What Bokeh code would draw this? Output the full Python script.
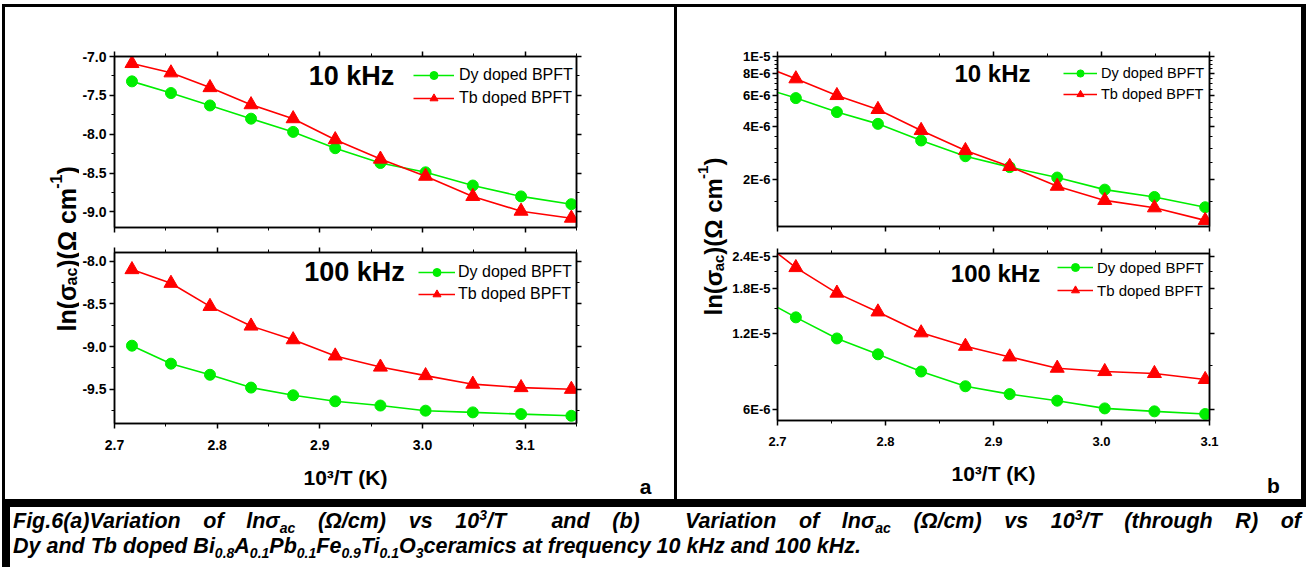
import math
from bokeh.plotting import figure
from bokeh.models import (Range1d, FixedTicker, CustomJSTickFormatter, LinearAxis, LogAxis,
                          Legend, LegendItem, Label, Div, Spacer)
from bokeh.layouts import row, column
from bokeh.embed import file_html
from bokeh.resources import INLINE

FONT = "Liberation Sans"
GREEN = "#00ee00"
RED = "#ff0000"

# ---------------- data ----------------
x_a = [2.717, 2.755, 2.793, 2.833, 2.874, 2.915, 2.959, 3.003, 3.049, 3.096, 3.145]
dy_10k_a = [-7.32, -7.47, -7.63, -7.80, -7.97, -8.18, -8.37, -8.49, -8.66, -8.80, -8.90]
tb_10k_a = [-7.09, -7.21, -7.40, -7.62, -7.80, -8.07, -8.32, -8.54, -8.80, -8.99, -9.08]
dy_100k_a = [-8.99, -9.20, -9.33, -9.48, -9.57, -9.64, -9.69, -9.75, -9.77, -9.79, -9.81]
tb_100k_a = [-8.10, -8.26, -8.53, -8.76, -8.92, -9.11, -9.24, -9.34, -9.44, -9.48, -9.50]

x_b = [2.681, 2.717, 2.755, 2.793, 2.833, 2.874, 2.915, 2.959, 3.003, 3.049, 3.096]
dy_10k_b = [6.8e-6, 5.80e-6, 4.83e-6, 4.14e-6, 3.33e-6, 2.71e-6, 2.35e-6, 2.05e-6, 1.75e-6, 1.59e-6, 1.39e-6]
tb_10k_b = [9.1e-6, 7.47e-6, 6.00e-6, 5.00e-6, 3.80e-6, 2.92e-6, 2.37e-6, 1.83e-6, 1.52e-6, 1.38e-6, 1.17e-6]
dy_100k_b = [1.68e-5, 1.386e-5, 1.145e-5, 9.92e-6, 8.49e-6, 7.43e-6, 6.92e-6, 6.52e-6, 6.08e-6, 5.92e-6, 5.78e-6]
tb_100k_b = [2.85e-5, 2.175e-5, 1.726e-5, 1.456e-5, 1.205e-5, 1.067e-5, 9.69e-6, 8.75e-6, 8.49e-6, 8.34e-6, 7.90e-6]

series_labels = ["Dy doped BPFT", "Tb doped BPFT"]
freq_labels = ["10 kHz", "100 kHz"]

x_ticks_a = [2.7, 2.8, 2.9, 3.0, 3.1]
x_minor_a = [2.75, 2.85, 2.95, 3.05, 3.15]
x_ticks_b = [2.7, 2.8, 2.9, 3.0, 3.1]
x_minor_b = [2.75, 2.85, 2.95, 3.05]
y_ticks_a10 = [-7.0, -7.5, -8.0, -8.5, -9.0]
y_minor_a10 = [-7.25, -7.75, -8.25, -8.75, -9.25]
y_ticks_a100 = [-8.0, -8.5, -9.0, -9.5]
y_minor_a100 = [-8.25, -8.75, -9.25, -9.75]
y_ticks_b10 = [2e-6, 4e-6, 6e-6, 8e-6, 1e-5]
y_minor_b10 = [1.5e-6, 2.5e-6, 3e-6, 3.5e-6, 4.5e-6, 5e-6, 5.5e-6, 6.5e-6, 7e-6, 7.5e-6,
               8.5e-6, 9e-6, 9.5e-6]
y_ticks_b100 = [6e-6, 1.2e-5, 1.8e-5, 2.4e-5]
y_minor_b100 = [9e-6, 1.5e-5, 2.1e-5]

FMT_LIN = "return tick.toFixed(1);"
FMT_EXP = "return tick.toExponential().toUpperCase();"
FMT_NONE = "return '';"


def style_axis(ax, ticks, minor, fmt, fs, show):
    ax.ticker = FixedTicker(ticks=ticks, minor_ticks=minor)
    ax.formatter = CustomJSTickFormatter(code=fmt if show else FMT_NONE)
    ax.axis_line_color = "black"
    ax.axis_line_width = 1.5
    ax.major_tick_line_color = "black"
    ax.major_tick_line_width = 1.5
    ax.minor_tick_line_color = "black"
    ax.minor_tick_line_width = 1
    ax.major_tick_in = 0
    ax.major_tick_out = 5
    ax.minor_tick_in = 0
    ax.minor_tick_out = 3
    ax.major_label_text_font = FONT
    ax.major_label_text_font_style = "bold"
    ax.major_label_text_color = "black"
    ax.major_label_text_font_size = fs if show else "1px"
    ax.major_label_standoff = 3 if show else 0


def make_panel(w, h, mb, xr, yr, log, xt, xmt, yt, ymt, yfmt, tick_fs, bottom_labels,
               xs, ydy, ytb, leg, freq, freq_pos, freq_fs, leg_fs, ystand=3):
    p = figure(width=w, height=h, x_range=Range1d(*xr), y_range=Range1d(*yr),
               y_axis_type="log" if log else "linear", output_backend="svg",
               toolbar_location=None, min_border_left=mb[0], min_border_right=mb[1],
               min_border_top=mb[2], min_border_bottom=mb[3])
    p.grid.visible = False
    p.outline_line_color = "black"
    p.outline_line_width = 1.5
    p.background_fill_color = "white"
    p.border_fill_color = "white"

    style_axis(p.below[0], xt, xmt, FMT_LIN, tick_fs, bottom_labels)
    style_axis(p.left[0], yt, ymt, yfmt, tick_fs, True)
    p.left[0].major_label_standoff = ystand
    top_ax = LinearAxis()
    p.add_layout(top_ax, "above")
    style_axis(top_ax, xt, xmt, FMT_LIN, tick_fs, False)
    right_ax = LogAxis() if log else LinearAxis()
    p.add_layout(right_ax, "right")
    style_axis(right_ax, yt, ymt, yfmt, tick_fs, False)

    if bottom_labels:
        ax = p.below[0]
        ax.major_label_standoff = 11
        ax.axis_label = "10³/T (K)"
        ax.axis_label_text_font = FONT
        ax.axis_label_text_font_style = "bold"
        ax.axis_label_text_font_size = "21px"
        ax.axis_label_text_color = "black"
        ax.axis_label_standoff = 13

    l1 = p.line(xs, ydy, line_color=GREEN, line_width=1.6)
    s1 = p.scatter(xs, ydy, marker="circle", size=11, fill_color=GREEN, line_color=GREEN)
    l2 = p.line(xs, ytb, line_color=RED, line_width=1.6)
    s2 = p.scatter(xs, ytb, marker="triangle", size=14, fill_color=RED, line_color=RED)

    legend = Legend(items=[LegendItem(label=series_labels[0], renderers=[l1, s1]),
                           LegendItem(label=series_labels[1], renderers=[l2, s2])],
                    location=(leg["vx"], leg["vy"]), padding=0, margin=0,
                    spacing=leg["sp"], glyph_width=leg["gw"], glyph_height=leg["lh"],
                    label_height=leg["lh"], label_standoff=leg["so"],
                    border_line_alpha=0, background_fill_alpha=0,
                    label_text_font=FONT, label_text_font_size=leg_fs,
                    label_text_color="black")
    p.add_layout(legend)

    p.add_layout(Label(x=freq_pos[0], y=freq_pos[1], x_units="screen", y_units="screen",
                       text=freq, text_font=FONT, text_font_size=freq_fs,
                       text_font_style="bold", text_align="center",
                       text_baseline="middle", text_color="black"))
    return p


def blank_fig(w, h):
    p = figure(width=w, height=h, x_range=Range1d(0, 1), y_range=Range1d(0, 1),
               x_axis_type=None, y_axis_type=None, toolbar_location=None,
               output_backend="svg", min_border=0, outline_line_color=None)
    p.min_border_left = p.min_border_right = p.min_border_top = p.min_border_bottom = 0
    p.grid.visible = False
    p.border_fill_color = "white"
    p.background_fill_color = "white"
    return p


W_EM = {'l': 278, 'n': 611, '(': 333, ')': 333, 'σ': 618, 'a': 556, 'c': 556, 'Ω': 768,
        ' ': 278, 'm': 889, '-': 333, '1': 556}


def ylab_fig(w, h, base_x, y_start, f, fs):
    p = blank_fig(w, h)
    pieces = [("ln(σ", "n"), ("ac", "sub"), (")(Ω cm", "n"), ("-1", "sup"), (")", "n")]
    y = y_start
    for txt, kind in pieces:
        size = f if kind == "n" else fs
        dx = 0 if kind == "n" else (0.2 * f if kind == "sub" else -0.42 * f)
        p.add_layout(Label(x=base_x + dx, y=y, x_units="screen", y_units="screen",
                           text=txt, angle=math.pi / 2, text_font=FONT,
                           text_font_size=f"{size}px", text_font_style="bold",
                           text_align="left", text_baseline="alphabetic",
                           text_color="black"))
        y += sum(W_EM.get(ch, 556) for ch in txt) / 1000 * size
    return p


def tag_fig(w, h, letter, x, y):
    p = blank_fig(w, h)
    p.add_layout(Label(x=x, y=y, x_units="screen", y_units="screen", text=letter,
                       text_font=FONT, text_font_size="21px", text_font_style="bold",
                       text_align="center", text_baseline="middle",
                       text_color="black"))
    return p


# ---------------- panels ----------------
CELL_H = 492
topA = make_panel(521, 233, (33, 24, 49, 13), (2.7, 3.15), (-9.2, -7.0), False,
                  x_ticks_a, x_minor_a, y_ticks_a10, y_minor_a10, FMT_LIN, "14px", False,
                  x_a, dy_10k_a, tb_10k_a,
                  dict(vx=299, vy=119, sp=3, gw=41, lh=20, so=5),
                  freq_labels[0], (237, 152), "27px", "16px")
botA = make_panel(521, 259, (33, 24, 12, 76), (2.7, 3.15), (-9.9, -7.9), False,
                  x_ticks_a, x_minor_a, y_ticks_a100, y_minor_a100, FMT_LIN, "14px", True,
                  x_a, dy_100k_a, tb_100k_a,
                  dict(vx=304, vy=119, sp=2, gw=37, lh=20, so=3),
                  freq_labels[1], (240, 152), "27px", "16px")
topB = make_panel(501, 233, (46, 21, 49, 14), (2.7, 3.1), (1.08e-6, 1e-5), True,
                  x_ticks_b, x_minor_b, y_ticks_b10, y_minor_b10, FMT_EXP, "13px", False,
                  x_b, dy_10k_b, tb_10k_b,
                  dict(vx=286, vy=123, sp=3, gw=34, lh=18, so=4),
                  freq_labels[0], (215, 153), "24px", "14.5px", ystand=2)
botB = make_panel(501, 259, (46, 21, 13, 79), (2.7, 3.1), (5.45e-6, 2.47e-5), True,
                  x_ticks_b, x_minor_b, y_ticks_b100, y_minor_b100, FMT_EXP, "13px", True,
                  x_b, dy_100k_b, tb_100k_b,
                  dict(vx=280, vy=120, sp=3, gw=36, lh=20, so=4),
                  freq_labels[1], (218, 147), "24px", "15px", ystand=2)

ylabA = ylab_fig(74, CELL_H, 61, 168, 25, 16)
ylabB = ylab_fig(52, CELL_H, 36, 184, 24, 15)
tagA = tag_fig(74, CELL_H, "a", 45, 13)
tagB = tag_fig(71, CELL_H, "b", 43, 14)

WHITE = {"background-color": "white"}
cellA = row(ylabA, column(topA, botA), tagA, styles=WHITE)
cellB = row(ylabB, column(topB, botB), tagB, styles=WHITE)

SUB = "font-size:14px;position:relative;top:5px;"
SUP = "font-size:14px;position:relative;top:-8px;"
line1 = (f"Fig.6(a)Variation of lnσ<span style='{SUB}'>ac</span> (Ω/cm) vs 10<span style='{SUP}'>3</span>/T"
         f"&nbsp; and (b)&nbsp; Variation of lnσ<span style='{SUB}'>ac</span> (Ω/cm) vs "
         f"10<span style='{SUP}'>3</span>/T (through R) of")
line2 = (f"Dy and Tb doped Bi<span style='{SUB}'>0.8</span>A<span style='{SUB}'>0.1</span>"
         f"Pb<span style='{SUB}'>0.1</span>Fe<span style='{SUB}'>0.9</span>Ti<span style='{SUB}'>0.1</span>"
         f"O<span style='{SUB}'>3</span>ceramics at frequency 10 kHz and 100 kHz.")
caption_html = (
    "<div style=\"font-family:'Liberation Sans',Arial,sans-serif;font-weight:bold;font-style:italic;"
    "font-size:21.5px;line-height:23px;color:black;padding:3px 1px 0 3px;width:1292px;\">"
    f"<div style='text-align:justify;text-align-last:justify;white-space:nowrap;'>{line1}</div>"
    f"<div style='white-space:nowrap;'>{line2}</div></div>")
caption = Div(text=caption_html, width=1296, height=61,
              styles={"background-color": "white", "overflow": "hidden"})

TW = 1296
table_inner = column(Spacer(width=TW, height=3),
                     row(cellA, Spacer(width=3, height=CELL_H), cellB),
                     Spacer(width=TW, height=3), caption, Spacer(width=TW, height=3))
table = row(Spacer(width=3, height=566 - 4), table_inner, Spacer(width=3, height=566 - 4),
            styles={"background-color": "black"})
page = column(Spacer(width=1304, height=4), row(Spacer(width=2, height=562), table))

open("out.html", "w").write(file_html(page, INLINE))
